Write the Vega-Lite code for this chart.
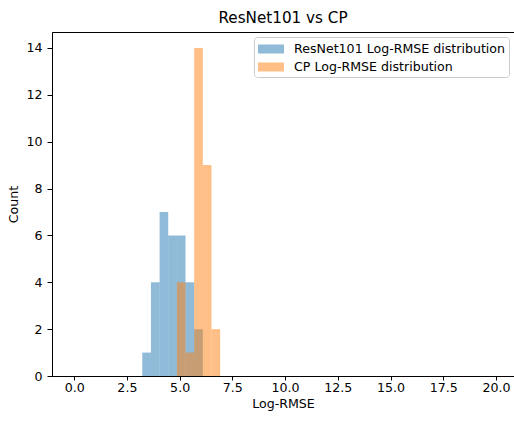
{
  "$schema": "https://vega.github.io/schema/vega-lite/v6.json",
  "width": 462,
  "height": 344,
  "autosize": "none",
  "padding": {"left": 52, "top": 32, "right": 0, "bottom": 45},
  "title": {"text": "ResNet101 vs CP", "fontSize": 15.2, "font": "DejaVu Sans", "fontWeight": "normal", "color": "black", "offset": 6},
  "data": {
    "values": [
      {"series": "ResNet101 Log-RMSE distribution", "bin_start": 3.23, "bin_end": 3.64, "count": 1},
      {"series": "ResNet101 Log-RMSE distribution", "bin_start": 3.64, "bin_end": 4.05, "count": 4},
      {"series": "ResNet101 Log-RMSE distribution", "bin_start": 4.05, "bin_end": 4.46, "count": 7},
      {"series": "ResNet101 Log-RMSE distribution", "bin_start": 4.46, "bin_end": 4.87, "count": 6},
      {"series": "ResNet101 Log-RMSE distribution", "bin_start": 4.87, "bin_end": 5.28, "count": 6},
      {"series": "ResNet101 Log-RMSE distribution", "bin_start": 5.28, "bin_end": 5.69, "count": 4},
      {"series": "ResNet101 Log-RMSE distribution", "bin_start": 5.69, "bin_end": 6.10, "count": 2},
      {"series": "CP Log-RMSE distribution", "bin_start": 4.87, "bin_end": 5.28, "count": 4},
      {"series": "CP Log-RMSE distribution", "bin_start": 5.28, "bin_end": 5.69, "count": 1},
      {"series": "CP Log-RMSE distribution", "bin_start": 5.69, "bin_end": 6.10, "count": 14},
      {"series": "CP Log-RMSE distribution", "bin_start": 6.10, "bin_end": 6.51, "count": 9},
      {"series": "CP Log-RMSE distribution", "bin_start": 6.51, "bin_end": 6.92, "count": 2}
    ]
  },
  "mark": {"type": "rect", "opacity": 0.5},
  "encoding": {
    "x": {
      "field": "bin_start",
      "type": "quantitative",
      "title": "Log-RMSE",
      "scale": {"domain": [-1.05, 20.85], "nice": false, "zero": false},
      "axis": {"values": [0, 2.5, 5, 7.5, 10, 12.5, 15, 17.5, 20], "format": ".1f", "labelFlush": false, "tickSize": 4, "labelPadding": 1, "titlePadding": 4}
    },
    "x2": {"field": "bin_end"},
    "y": {
      "field": "count",
      "type": "quantitative",
      "title": "Count",
      "scale": {"domain": [0, 14.68], "nice": false},
      "axis": {"values": [0, 2, 4, 6, 8, 10, 12, 14], "tickSize": 5, "labelPadding": 5, "titlePadding": 5}
    },
    "y2": {"datum": 0},
    "color": {
      "field": "series",
      "type": "nominal",
      "sort": ["ResNet101 Log-RMSE distribution", "CP Log-RMSE distribution"],
      "scale": {"domain": ["ResNet101 Log-RMSE distribution", "CP Log-RMSE distribution"], "range": ["#1f77b4", "#ff7f0e"]},
      "legend": {
        "title": null,
        "orient": "top-right",
        "offset": 5,
        "padding": 3,
        "fillColor": "rgba(255,255,255,0.8)",
        "strokeColor": "#cccccc",
        "cornerRadius": 3,
        "symbolType": "M-0.89,-0.5H2V0.5H-0.89Z",
        "symbolSize": 324,
        "symbolStrokeWidth": 0,
        "symbolOpacity": 0.5,
        "labelFontSize": 12.6,
        "labelFont": "DejaVu Sans",
        "labelColor": "black",
        "labelOffset": 19,
        "rowPadding": 2,
        "labelLimit": 400
      }
    }
  },
  "config": {
    "font": "DejaVu Sans",
    "view": {"stroke": "black", "strokeWidth": 1},
    "axis": {
      "grid": false,
      "domainColor": "black",
      "tickColor": "black",
      "labelColor": "black",
      "titleColor": "black",
      "labelFont": "DejaVu Sans",
      "titleFont": "DejaVu Sans",
      "labelFontSize": 12.6,
      "titleFontSize": 12.6,
      "titleFontWeight": "normal"
    }
  }
}
